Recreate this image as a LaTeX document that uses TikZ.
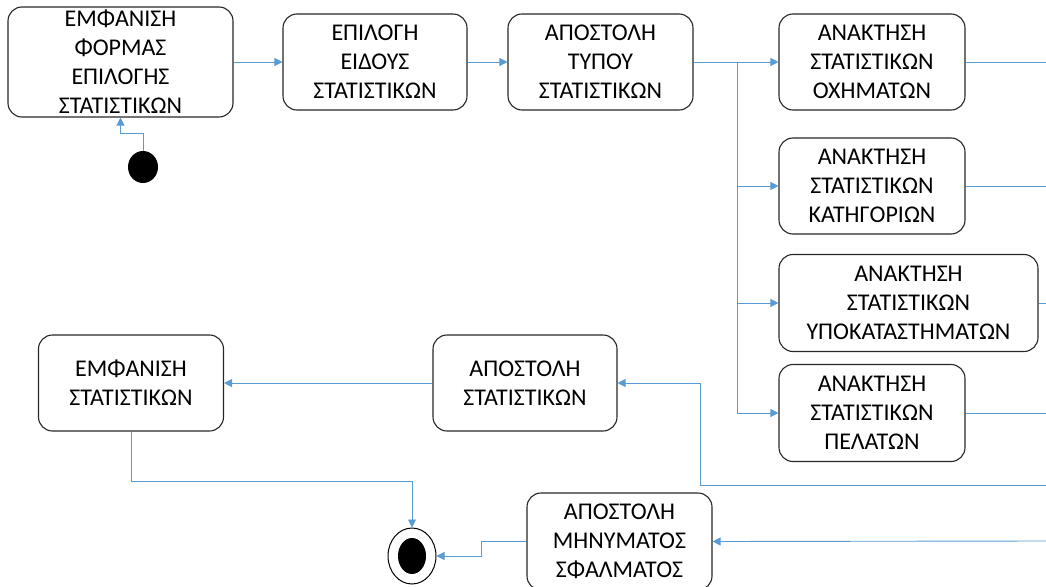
\documentclass[tikz,border=0pt]{standalone}
\usepackage{fontspec}
\setmainfont{Carlito}
\usetikzlibrary{arrows.meta,shapes.geometric}
\definecolor{flow}{HTML}{5B9BD5}
\definecolor{edge}{HTML}{262626}
\tikzset{
  state/.style={draw=edge, line width=1.1pt, rounded corners=14pt, align=center,
    inner sep=0pt, font=\fontsize{24}{29}\selectfont, text=black},
  conn/.style={draw=flow, line width=0.9pt, -{Triangle[length=8pt,width=8pt]}},
  wire/.style={draw=flow, line width=0.9pt},
}
\begin{document}
\begin{tikzpicture}[x=1pt,y=-1pt]
\useasboundingbox (0,0) rectangle (1046,586);
\clip (0,0) rectangle (1046,586);

% activity states
\node[state, minimum width=225pt, minimum height=110pt] (b1) at (120.5,62)
  {ΕΜΦΑΝΙΣΗ\\ΦΟΡΜΑΣ\\ΕΠΙΛΟΓΗΣ\\ΣΤΑΤΙΣΤΙΚΩΝ};
\node[state, minimum width=184pt, minimum height=96pt] (b2) at (375,62)
  {ΕΠΙΛΟΓΗ\\ΕΙΔΟΥΣ\\ΣΤΑΤΙΣΤΙΚΩΝ};
\node[state, minimum width=185pt, minimum height=96pt] (b3) at (600.5,62)
  {ΑΠΟΣΤΟΛΗ\\ΤΥΠΟΥ\\ΣΤΑΤΙΣΤΙΚΩΝ};
\node[state, minimum width=186pt, minimum height=96pt] (b4) at (872,62)
  {ΑΝΑΚΤΗΣΗ\\ΣΤΑΤΙΣΤΙΚΩΝ\\ΟΧΗΜΑΤΩΝ};
\node[state, minimum width=186pt, minimum height=96pt] (b5) at (872,186)
  {ΑΝΑΚΤΗΣΗ\\ΣΤΑΤΙΣΤΙΚΩΝ\\ΚΑΤΗΓΟΡΙΩΝ};
\node[state, minimum width=259pt, minimum height=97pt] (b6) at (908.5,303)
  {ΑΝΑΚΤΗΣΗ\\ΣΤΑΤΙΣΤΙΚΩΝ\\ΥΠΟΚΑΤΑΣΤΗΜΑΤΩΝ};
\node[state, minimum width=186pt, minimum height=97pt] (b7) at (872,413)
  {ΑΝΑΚΤΗΣΗ\\ΣΤΑΤΙΣΤΙΚΩΝ\\ΠΕΛΑΤΩΝ};
\node[state, minimum width=185pt, minimum height=96pt] (b8) at (131,383)
  {ΕΜΦΑΝΙΣΗ\\ΣΤΑΤΙΣΤΙΚΩΝ};
\node[state, minimum width=184pt, minimum height=96pt] (b9) at (525,383)
  {ΑΠΟΣΤΟΛΗ\\ΣΤΑΤΙΣΤΙΚΩΝ};
\node[state, minimum width=185pt, minimum height=97pt] (b10) at (619.5,541.5)
  {ΑΠΟΣΤΟΛΗ\\ΜΗΝΥΜΑΤΟΣ\\ΣΦΑΛΜΑΤΟΣ};

% initial and final states
\node[ellipse, fill=black, minimum width=30pt, minimum height=32pt, inner sep=0pt] (s) at (143,167) {};
\node[ellipse, draw=black, line width=1pt, minimum width=48pt, minimum height=56pt, inner sep=0pt] (f) at (412,556) {};
\fill[black] (f.center) ellipse (14pt and 18pt);

% loose ends of connectors leaving the drawing
\coordinate (r4) at (1046,62);
\coordinate (r5) at (1046,186);
\coordinate (r6) at (1046,303);
\coordinate (r7) at (1046,413);
\coordinate (r9) at (1046,485);
\coordinate (r10) at (1046,541);
\coordinate (br) at (737,62);
\coordinate (k) at (700,485);
\coordinate (j) at (412,481);

% main flow
\draw[conn] (s.north) -- ++(0,-17) -| (b1.south);
\draw[conn] (b1.east) -- (b2.west);
\draw[conn] (b2.east) -- (b3.west);
\draw[conn] (b3.east) -- (b4.west);
\draw[conn] (br) |- (b5.west);
\draw[conn] (br) |- (b6.west);
\draw[conn] (br) |- (b7.west);

\draw[wire] (b4.east) -- (r4);
\draw[wire] (b5.east) -- (r5);
\draw[wire] (b6.east) -- (r6);
\draw[wire] (b7.east) -- (r7);

\draw[conn] (r9) -- (k) |- (b9.east);
\draw[conn] (b9.west) -- (b8.east);
\draw[conn] (b8.south) |- (j) -- (f.north);
\draw[conn] (r10) -- (b10.east);
\draw[conn] (b10.west) -- ++(-45,0) |- (f.east);
\end{tikzpicture}
\end{document}
